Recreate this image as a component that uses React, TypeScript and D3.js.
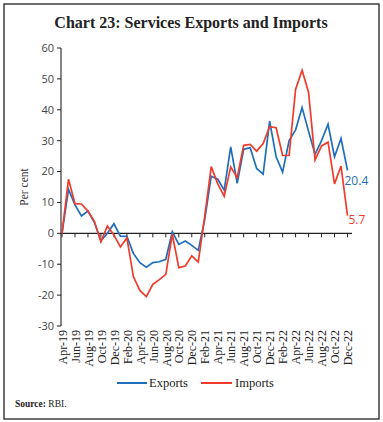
import React from "react";
import * as d3 from "d3";

const months: string[] = [
  "Apr-19","May-19","Jun-19","Jul-19","Aug-19","Sep-19","Oct-19","Nov-19","Dec-19",
  "Jan-20","Feb-20","Mar-20","Apr-20","May-20","Jun-20","Jul-20","Aug-20","Sep-20","Oct-20","Nov-20","Dec-20",
  "Jan-21","Feb-21","Mar-21","Apr-21","May-21","Jun-21","Jul-21","Aug-21","Sep-21","Oct-21","Nov-21","Dec-21",
  "Jan-22","Feb-22","Mar-22","Apr-22","May-22","Jun-22","Jul-22","Aug-22","Sep-22","Oct-22","Nov-22","Dec-22",
];

const exportsGrowth: number[] = [
  0, 14.2, 9.2, 5.6, 7.2, 3.5, -2.4, 0, 3.1,
  -0.9, -1, -6.5, -9.5, -11, -9.5, -9.2, -8.4, 0.5, -3.6, -2.5, -3.9,
  -5.5, 4.5, 18.5, 17.5, 14, 28, 16.2, 27.2, 27.7, 21, 19.2, 36.3,
  24.8, 19.8, 30, 33.5, 40.7, 33, 25.6, 30, 35.3, 24.8, 30.7, 20.4,
];

const importsGrowth: number[] = [
  0, 17.5, 9.6, 9.5, 7.2, 3.8, -2.7, 2.4, -0.5,
  -4.4, -1.5, -14, -18.5, -20.5, -16.5, -15, -13.3, -0.3, -11.1, -10.6, -7.3,
  -9.3, 5.5, 21.6, 16, 12, 21.5, 18, 28.5, 28.8, 26.6, 29.1, 34.5,
  34.2, 25.2, 25.2, 46.6, 52.8, 45.7, 23.7, 28.3, 29.5, 16, 21.8, 5.7,
];

const yTicks: number[] = [60, 50, 40, 30, 20, 10, 0, -10, -20, -30];

const W = 383;
const H = 422;
const BLUE = "#1f6ebd";
const RED = "#ef3b2c";
const SERIF = "'Liberation Serif', 'Times New Roman', serif";
const SANS = "'Open Sans', 'DejaVu Sans', sans-serif";

export default function App() {
  const x = d3.scalePoint<number>().domain(months.map((_, i) => i)).range([62, 347.5]);
  const y = d3.scaleLinear().domain([-30, 60]).range([326, 48]);
  const line = d3
    .line<number>()
    .x((_, i) => x(i) as number)
    .y((d) => y(d));

  const labelIdx = months.map((_, i) => i).filter((i) => i % 2 === 0);
  const last = months.length - 1;

  return (
    <div style={{ position: "absolute", left: 0, top: 0 }}>
      <svg width={W} height={H} style={{ display: "block", background: "#fff" }}>
        <rect x={4} y={4} width={375} height={415} fill="#fff" stroke="#222" strokeWidth={1.3} />
        <text
          x={191}
          y={28}
          textAnchor="middle"
          fontFamily={SERIF}
          fontWeight="bold"
          fontSize={16}
          fill="#222"
        >
          Chart 23: Services Exports and Imports
        </text>

        {/* Y axis */}
        <line x1={61} x2={61} y1={y(60)} y2={y(-30)} stroke="#222" strokeWidth={1.1} />
        {yTicks.map((t) => (
          <g key={t}>
            <line x1={57} x2={61} y1={y(t)} y2={y(t)} stroke="#222" strokeWidth={1} />
            <text
              x={54}
              y={y(t)}
              dy="0.35em"
              textAnchor="end"
              fontFamily={SANS}
              fontSize={11}
              fill="#444"
            >
              {t}
            </text>
          </g>
        ))}
        <text
          transform={`translate(24,187) rotate(-90)`}
          textAnchor="middle"
          dy="0.35em"
          fontFamily={SERIF}
          fontSize={11.5}
          fill="#333"
        >
          Per cent
        </text>

        {/* X axis at zero */}
        <line x1={61} x2={352} y1={y(0)} y2={y(0)} stroke="#222" strokeWidth={1.1} />
        {labelIdx.map((i) => (
          <line
            key={"t" + i}
            x1={x(i) as number}
            x2={x(i) as number}
            y1={y(0)}
            y2={y(0) + 4}
            stroke="#222"
            strokeWidth={1}
          />
        ))}
        {labelIdx.map((i) => (
          <text
            key={"l" + i}
            transform={`translate(${(x(i) as number) + 0.5},${y(-30) + 4}) rotate(-90)`}
            textAnchor="end"
            dy="0.35em"
            fontFamily={SERIF}
            fontSize={12}
            fill="#222"
          >
            {months[i]}
          </text>
        ))}

        {/* Lines */}
        <path d={line(exportsGrowth) || ""} fill="none" stroke={BLUE} strokeWidth={1.7} />
        <path d={line(importsGrowth) || ""} fill="none" stroke={RED} strokeWidth={1.7} />

        {/* End labels */}
        <text
          x={(x(last) as number) - 3}
          y={y(exportsGrowth[last]) + 15}
          fontFamily={SANS}
          fontSize={12}
          fill={BLUE}
        >
          {exportsGrowth[last].toFixed(1)}
        </text>
        <text
          x={(x(last) as number) + 1}
          y={y(importsGrowth[last]) + 8}
          fontFamily={SANS}
          fontSize={12}
          fill={RED}
        >
          {importsGrowth[last].toFixed(1)}
        </text>

        {/* Legend */}
        <line x1={117} x2={147} y1={383} y2={383} stroke={BLUE} strokeWidth={2} />
        <text x={149} y={383} dy="0.35em" fontFamily={SERIF} fontSize={12.5} fill="#222">
          Exports
        </text>
        <line x1={201} x2={232} y1={383} y2={383} stroke={RED} strokeWidth={2} />
        <text x={235} y={383} dy="0.35em" fontFamily={SERIF} fontSize={12.5} fill="#222">
          Imports
        </text>

        {/* Source */}
        <text x={15} y={407} fontFamily={SERIF} fontSize={9.5} fill="#222">
          <tspan fontWeight="bold">Source:</tspan>
          <tspan> RBI.</tspan>
        </text>
      </svg>
    </div>
  );
}
